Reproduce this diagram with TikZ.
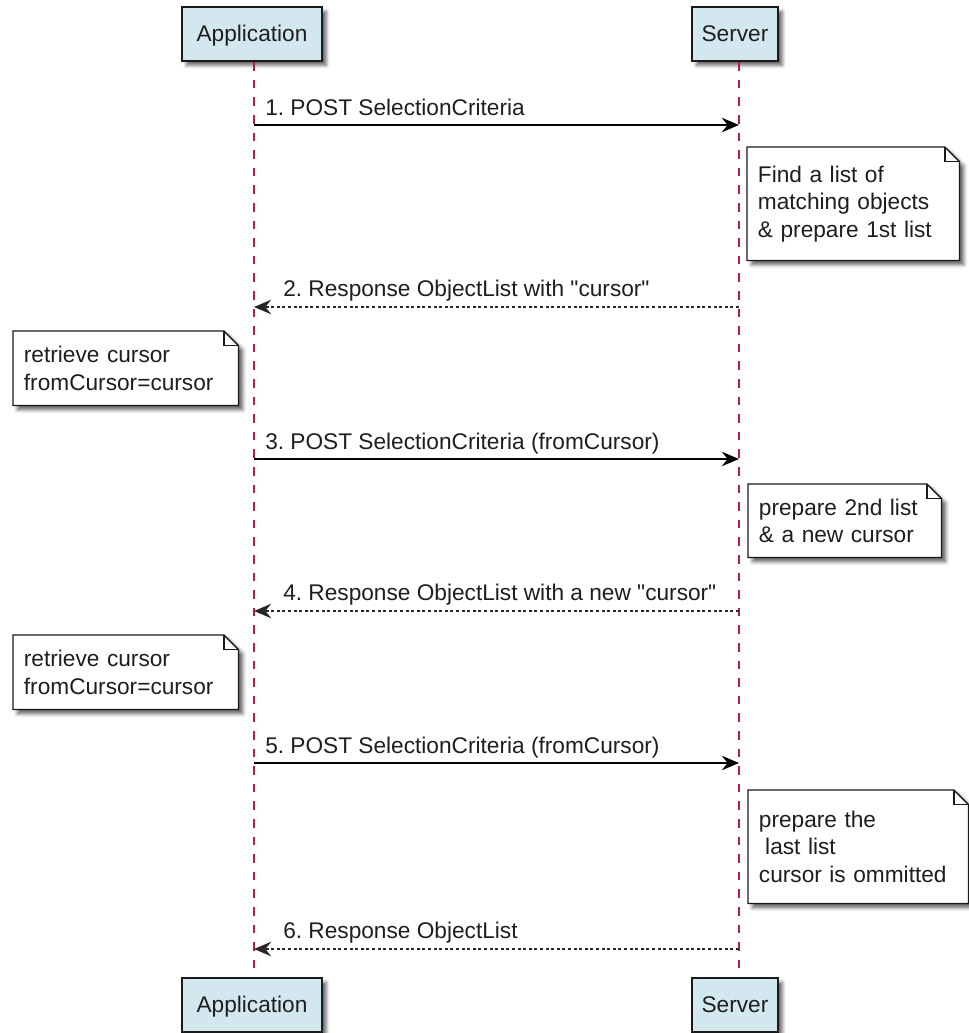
\documentclass[tikz,border=0pt]{standalone}
\usepackage{fontspec}
\setmainfont{Liberation Sans}
\usetikzlibrary{arrows.meta,shadows.blur,backgrounds,calc}
\definecolor{lifered}{HTML}{B71A50}
\definecolor{partfill}{HTML}{D3E8EE}
\definecolor{txt}{HTML}{1E1E1E}
\frenchspacing
\tikzset{
  myshadow/.style={blur shadow={shadow xshift=3.2pt, shadow yshift=-3.2pt, shadow blur radius=2.6pt, shadow opacity=60}},
  part/.style={draw=black!90, line width=1.8pt, fill=partfill, minimum width=105pt, minimum height=40.5pt, inner sep=0pt, text height=11.5pt, text depth=0pt, myshadow},
  lifeline/.style={draw=lifered, line width=1.3pt, dash pattern=on 6.4pt off 6.8pt},
  callmsg/.style={draw=black, line width=1.3pt, -{Stealth[length=13pt, width=11pt, inset=4.5pt]}},
  retmsg/.style={draw=black!85, line width=1pt, dash pattern=on 2.2pt off 2pt, -{Stealth[length=13pt, width=11pt, inset=4.5pt, line width=0pt]}},
  msglabel/.style={anchor=base west, inner sep=0pt},
  notetext/.style={anchor=north west, align=left, inner xsep=8pt, inner ysep=0pt},
  noteshape/.style={fill=white, draw=black!90, line width=1pt, myshadow},
  notefold/.style={draw=black!90, line width=1pt},
}
\begin{document}
\begin{tikzpicture}[x=0.75pt, y=-0.75pt, font=\fontsize{17}{20.6}\selectfont\frenchspacing, text=txt]
\useasboundingbox (0,0) rectangle (969,1033);

% participants
\node[part] (appT) at (252,34) {Application};
\node[part, minimum width=64.5pt] (srvT) at (735,34) {Server};
\node[part] (appB) at (252,1005) {Application};
\node[part, minimum width=64.5pt] (srvB) at (735,1005) {Server};

\coordinate (appX) at (254,0);
\coordinate (srvX) at (739,0);

% lifelines
\draw[lifeline] (appT.south -| appX) -- (appB.north -| appX);
\draw[lifeline] (srvT.south -| srvX) -- (srvB.north -| srvX);

% message coordinates
\foreach \i/\y in {1/125, 2/307, 3/459, 4/611, 5/763, 6/949} {
  \coordinate (a\i) at (254,\y);
  \coordinate (s\i) at (739,\y);
}

% messages
\draw[callmsg] (a1) -- (s1);
\node[msglabel] (l1) at (265,115) {1. POST SelectionCriteria};
\draw[retmsg] (s2) -- (a2);
\node[msglabel] (l2) at (283,296) {2. Response ObjectList with \textquotedbl cursor\textquotedbl};
\draw[callmsg] (a3) -- (s3);
\node[msglabel] (l3) at (265,449) {3. POST SelectionCriteria (fromCursor)};
\draw[retmsg] (s4) -- (a4);
\node[msglabel] (l4) at (283,600) {4. Response ObjectList with a new \textquotedbl cursor\textquotedbl};
\draw[callmsg] (a5) -- (s5);
\node[msglabel] (l5) at (265,753) {5. POST SelectionCriteria (fromCursor)};
\draw[retmsg] (s6) -- (a6);
\node[msglabel] (l6) at (283,938) {6. Response ObjectList};

% notes: text nodes
\node[notetext, text width=143pt, minimum height=84.75pt] (n1) at (747,147)
  {Find a list of\\matching objects\\\& prepare 1st list};
\node[notetext, text width=152.75pt, minimum height=55.5pt] (r1) at (13,331)
  {retrieve cursor\\fromCursor=cursor};
\node[notetext, text width=128.75pt, minimum height=54.75pt] (n2) at (748,484)
  {prepare 2nd list\\\& a new cursor};
\node[notetext, text width=152.75pt, minimum height=55.5pt] (r2) at (13,635)
  {retrieve cursor\\fromCursor=cursor};
\node[notetext, text width=149pt, minimum height=84.75pt] (n3) at (748,790)
  {prepare the\\\hspace*{0.278em}last list\\cursor is ommitted};

\begin{scope}[on background layer]
\foreach \n in {n1,r1,n2,r2,n3} {
  \path[noteshape] (\n.north west) -- ([xshift=-11pt]\n.north east) -- ([yshift=-11pt]\n.north east) -- (\n.south east) -- (\n.south west) -- cycle;
  \draw[notefold] ([xshift=-11pt]\n.north east) |- ([yshift=-11pt]\n.north east);
}
\end{scope}
\end{tikzpicture}
\end{document}
